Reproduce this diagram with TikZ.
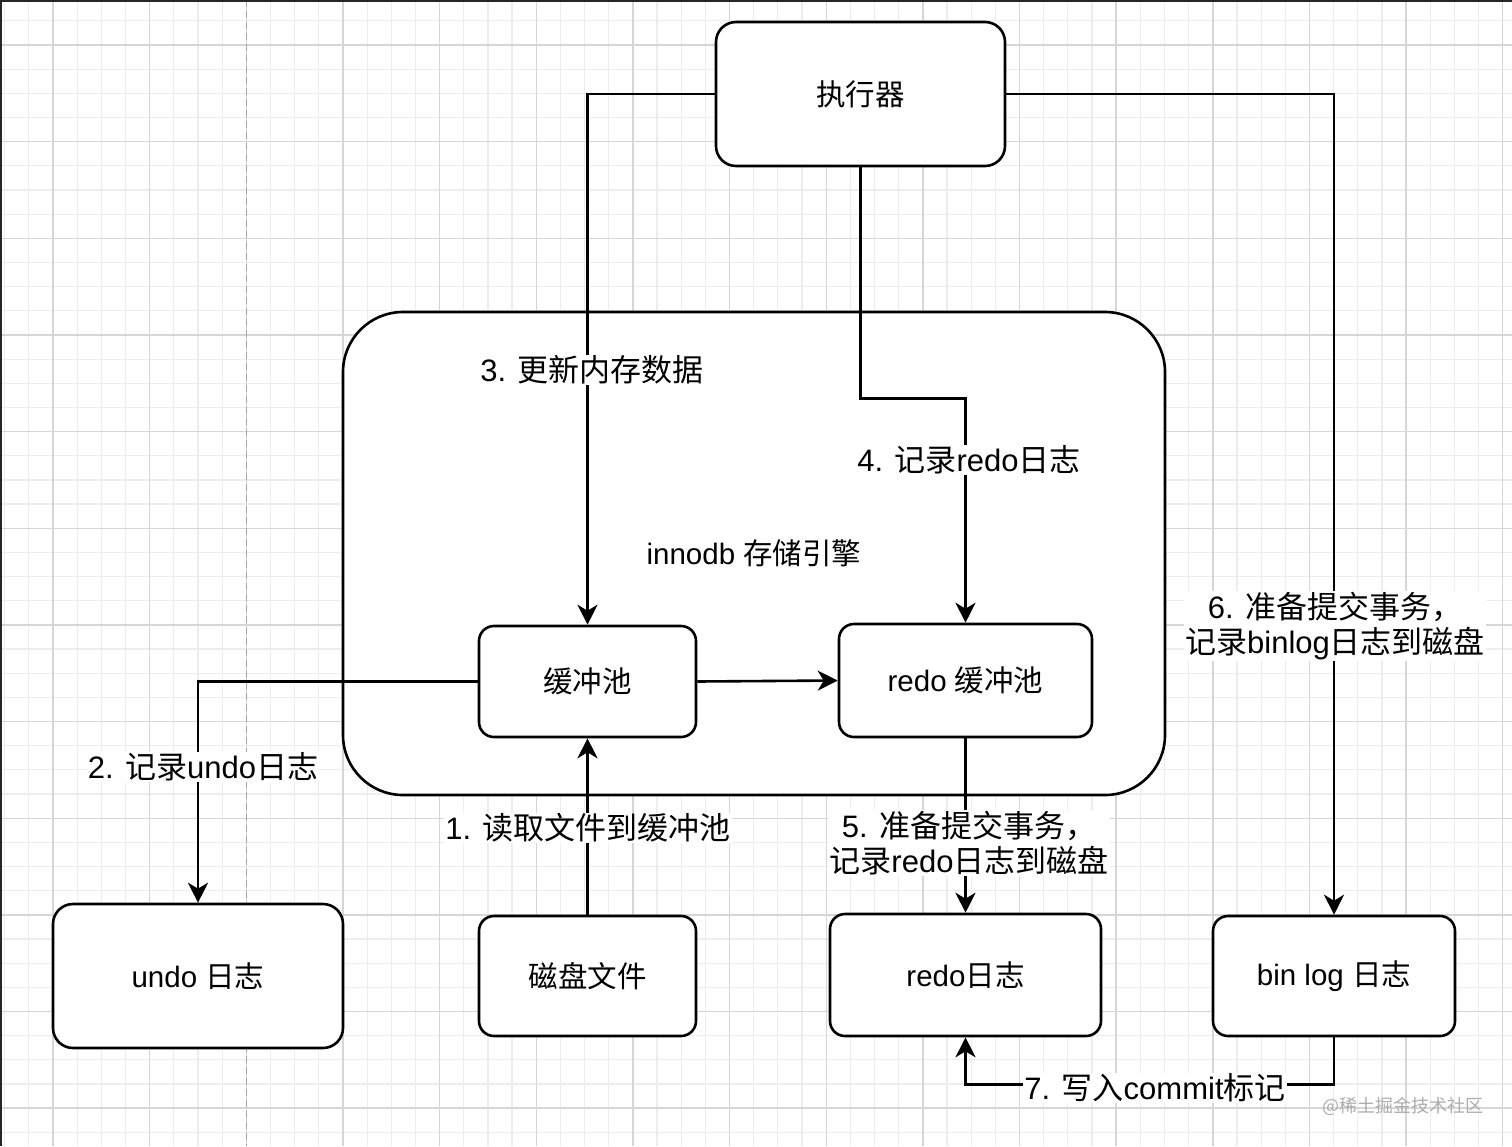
\documentclass[tikz,border=0pt]{standalone}
\usepackage{fontspec}
\setmainfont{Liberation Sans}
\newfontfamily\cjk{Noto Sans CJK SC}
\usetikzlibrary{arrows.meta}
\begin{document}
\begin{tikzpicture}[x=1pt,y=-1pt,
  box/.style={draw=black, line width=2.6pt, fill=white, rounded corners=16pt, inner sep=0pt, font=\fontsize{29.5}{35}\selectfont},
  lbl/.style={fill=white, inner sep=1pt, align=center, font=\fontsize{31}{35}\selectfont},
  conn/.style={draw=black, line width=2.6pt},
  arr/.style={conn, -{Stealth[length=20pt,width=20pt,inset=6pt]}},
  minorgrid/.style={draw=black!7, line width=1.2pt},
  majorgrid/.style={draw=black!16, line width=1.4pt},
]
\useasboundingbox (0,0) rectangle (1512,1146);
\fill[white] (0,0) rectangle (1512,1146);
% grid
\foreach \k in {-2,...,60} {\draw[minorgrid] ({53+24.1625*\k},0) -- ({53+24.1625*\k},1146);}
\foreach \k in {-1,...,45} {\draw[minorgrid] (0,{45+24.1625*\k}) -- (1512,{45+24.1625*\k});}
\foreach \k in {0,...,15} {\draw[majorgrid] ({53+96.65*\k},0) -- ({53+96.65*\k},1146);}
\foreach \k in {0,...,11} {\draw[majorgrid] (0,{45+96.65*\k}) -- (1512,{45+96.65*\k});}
\draw[black!35, line width=1.5pt, dash pattern=on 7pt off 4pt] (246.3,0) -- (246.3,1146);
\draw[black!85, line width=2pt] (1,1146) -- (1,1) -- (1512,1);

% container
\node[box, minimum width=822pt, minimum height=483pt, rounded corners=60pt] (innodb) at (754,553.5) {innodb {\cjk 存储引擎}};

% boxes
\node[box, minimum width=289pt, minimum height=144pt, rounded corners=20pt] (exec) at (860.5,94) {\cjk 执行器};
\node[box, minimum width=217pt, minimum height=111pt, rounded corners=15pt] (buf) at (587.5,681.5) {\cjk 缓冲池};
\node[box, minimum width=253pt, minimum height=113pt, rounded corners=15pt] (redobuf) at (965.5,680.5) {redo {\cjk 缓冲池}};
\node[box, minimum width=290pt, minimum height=144pt, rounded corners=20pt] (undo) at (198,976) {undo {\cjk 日志}};
\node[box, minimum width=217pt, minimum height=120pt, rounded corners=15pt] (disk) at (587.5,976) {\cjk 磁盘文件};
\node[box, minimum width=271pt, minimum height=122pt, rounded corners=15pt] (redolog) at (965.5,975) {redo{\cjk 日志}};
\node[box, minimum width=242pt, minimum height=120pt, rounded corners=15pt] (binlog) at (1334,976) {bin log {\cjk 日志}};

% connectors
\draw[arr] (exec.west) -| (buf.north);
\draw[arr] (exec.south) -- ++(0,231) -| (redobuf.north);
\draw[arr] (exec.east) -| (binlog.north);
\draw[arr] (buf.west) -| (undo.north);
\draw[arr] (buf.east) -- (redobuf.west);
\draw[arr] (disk.north) -- (buf.south);
\draw[arr] (redobuf.south) -- (redolog.north);
\draw[arr] (binlog.south) -- ++(0,47) -| (redolog.south);

% labels
\node[lbl] (l3) at (592,370) {3. {\cjk 更新内存数据}};
\node[lbl] (l4) at (969,460) {4. {\cjk 记录}redo{\cjk 日志}};
\node[lbl] (l6) at (1335,626) {6. {\cjk 准备提交事务，}\\{\cjk 记录}binlog{\cjk 日志到磁盘}};
\node[lbl] (l2) at (203,767) {2. {\cjk 记录}undo{\cjk 日志}};
\node[lbl] (l1) at (588,828) {1. {\cjk 读取文件到缓冲池}};
\node[lbl] (l5) at (969,843) {5. {\cjk 准备提交事务，}\\{\cjk 记录}redo{\cjk 日志到磁盘}};
\node[lbl] (l7) at (1155,1088) {7. {\cjk 写入}commit{\cjk 标记}};
\node[text=black!32, font=\cjk\fontsize{18}{20}\selectfont, inner sep=0pt] (wm) at (1403,1106) {@稀土掘金技术社区};
\end{tikzpicture}
\end{document}
